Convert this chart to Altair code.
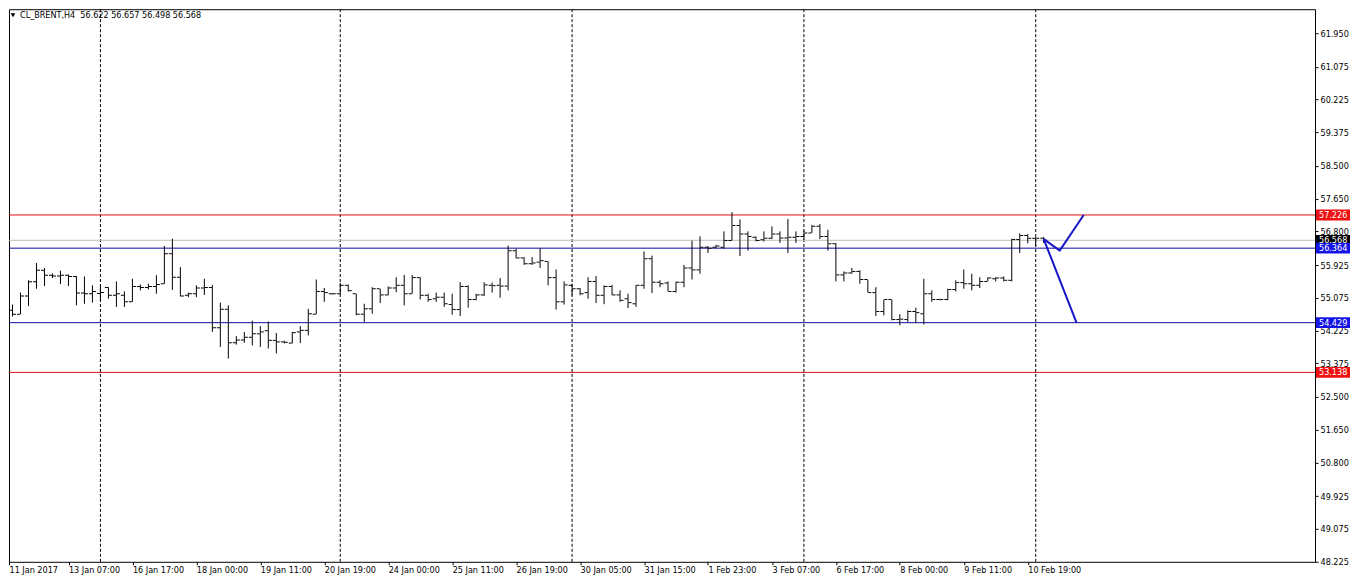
import altair as alt
import pandas as pd

# ---------------- data ----------------
bar_open = [54.79, 54.75, 54.65, 55.12, 55.49, 55.79, 55.66, 55.64, 55.66, 55.63,
            55.20, 55.18, 55.19, 55.34, 55.14, 55.14, 54.97, 55.37, 55.34, 55.37,
            55.44, 56.22, 55.61, 55.14, 55.18, 55.33, 55.34, 54.30, 54.78, 53.91,
            53.98, 54.05, 54.14, 54.22, 53.97, 53.93, 53.90, 54.19, 54.23, 54.65,
            55.24, 55.18, 55.18, 55.40, 55.18, 54.65, 54.79, 55.31, 55.15, 55.33,
            55.40, 55.18, 55.60, 55.14, 55.05, 55.09, 54.90, 54.77, 55.37, 55.03,
            55.15, 55.40, 55.40, 55.38, 56.30, 56.11, 55.96, 56.00, 56.02, 55.60,
            54.97, 55.40, 55.31, 55.21, 55.50, 55.14, 55.37, 55.15, 55.05, 54.92,
            55.40, 56.09, 55.48, 55.46, 55.24, 55.48, 55.85, 55.80, 56.39, 56.39,
            56.39, 56.56, 56.95, 56.73, 56.65, 56.58, 56.62, 56.73, 56.63, 56.65,
            56.67, 56.76, 56.93, 56.67, 56.48, 55.67, 55.72, 55.76, 55.55, 55.21,
            54.72, 55.03, 54.51, 54.51, 54.72, 54.66, 55.18, 55.03, 55.03, 55.29,
            55.47, 55.44, 55.40, 55.50, 55.57, 55.59, 55.53, 56.59, 56.69, 56.62,
            56.622]
bar_high = [55.01, 54.90, 55.21, 55.53, 55.98, 55.85, 55.71, 55.78, 55.68, 55.64,
            55.63, 55.40, 55.40, 55.35, 55.50, 55.24, 55.57, 55.42, 55.44, 55.66,
            56.42, 56.61, 55.87, 55.21, 55.40, 55.57, 55.41, 54.95, 54.88, 54.08,
            54.19, 54.48, 54.34, 54.46, 54.16, 53.96, 54.19, 54.34, 54.79, 55.55,
            55.33, 55.20, 55.46, 55.42, 55.18, 54.92, 55.35, 55.31, 55.37, 55.61,
            55.67, 55.67, 55.61, 55.18, 55.21, 55.21, 55.18, 55.48, 55.40, 55.18,
            55.48, 55.47, 55.59, 56.43, 56.35, 56.13, 56.13, 56.36, 56.02, 55.81,
            55.50, 55.44, 55.33, 55.61, 55.64, 55.40, 55.41, 55.27, 55.18, 55.41,
            56.28, 56.17, 55.53, 55.50, 55.50, 55.93, 56.56, 56.67, 56.42, 56.45,
            56.80, 57.30, 57.11, 56.80, 56.67, 56.80, 56.93, 56.80, 57.12, 56.80,
            56.82, 56.97, 56.99, 56.84, 56.50, 55.76, 55.85, 55.79, 55.55, 55.35,
            55.03, 55.03, 54.65, 54.75, 54.82, 55.57, 55.27, 55.05, 55.31, 55.53,
            55.81, 55.70, 55.61, 55.61, 55.61, 55.63, 56.61, 56.75, 56.73, 56.65,
            56.657]
bar_low = [54.69, 54.59, 54.65, 54.86, 55.31, 55.38, 55.59, 55.43, 55.38, 54.88,
           54.92, 54.95, 55.01, 55.05, 54.84, 54.84, 54.97, 55.27, 55.29, 55.18,
           55.44, 55.28, 55.11, 55.09, 55.09, 55.15, 54.19, 53.80, 53.50, 53.86,
           53.91, 53.84, 53.80, 53.76, 53.63, 53.89, 53.89, 53.90, 54.10, 54.65,
           54.97, 55.16, 55.15, 55.24, 54.62, 54.45, 54.66, 54.94, 55.14, 55.22,
           54.88, 55.18, 55.03, 54.97, 54.97, 54.84, 54.64, 54.60, 54.82, 55.01,
           55.12, 55.21, 55.08, 55.27, 56.10, 55.93, 55.93, 55.85, 55.40, 54.77,
           54.90, 55.14, 55.14, 55.05, 54.94, 54.91, 55.14, 54.97, 54.81, 54.84,
           55.31, 55.20, 55.35, 55.24, 55.21, 55.35, 55.55, 55.70, 56.24, 56.36,
           56.35, 56.56, 56.16, 56.30, 56.54, 56.54, 56.60, 56.50, 56.24, 56.50,
           56.58, 56.76, 56.60, 56.30, 55.50, 55.50, 55.70, 55.44, 55.21, 54.60,
           54.62, 54.49, 54.36, 54.45, 54.43, 54.38, 54.97, 55.01, 55.01, 55.24,
           55.31, 55.27, 55.33, 55.50, 55.50, 55.50, 55.50, 56.24, 56.49, 56.42,
           56.498]
bar_close = [54.77, 54.65, 55.12, 55.49, 55.79, 55.66, 55.64, 55.66, 55.63, 55.20,
             55.18, 55.24, 55.21, 55.14, 55.18, 54.97, 55.37, 55.34, 55.37, 55.42,
             56.22, 55.61, 55.12, 55.18, 55.33, 55.34, 54.30, 54.78, 53.91, 53.98,
             54.05, 54.14, 54.19, 53.97, 53.93, 53.92, 54.17, 54.23, 54.66, 55.24,
             55.21, 55.18, 55.40, 55.26, 54.65, 54.79, 55.31, 55.15, 55.33, 55.40,
             55.18, 55.60, 55.14, 55.03, 55.09, 54.92, 54.77, 55.37, 55.03, 55.15,
             55.41, 55.39, 55.38, 56.30, 56.11, 55.96, 55.98, 56.04, 55.60, 54.97,
             55.41, 55.31, 55.18, 55.50, 55.14, 55.37, 55.15, 55.01, 54.95, 55.40,
             56.09, 55.48, 55.44, 55.24, 55.48, 55.85, 55.80, 56.39, 56.36, 56.42,
             56.56, 56.95, 56.73, 56.67, 56.56, 56.62, 56.73, 56.63, 56.65, 56.67,
             56.76, 56.93, 56.67, 56.48, 55.67, 55.72, 55.76, 55.55, 55.21, 54.72,
             55.03, 54.51, 54.52, 54.72, 54.69, 55.18, 55.03, 55.03, 55.29, 55.47,
             55.44, 55.40, 55.50, 55.59, 55.59, 55.53, 56.59, 56.69, 56.62, 56.62,
             56.568]

date_labels = ["11 Jan 2017", "13 Jan 07:00", "16 Jan 17:00", "18 Jan 00:00", "19 Jan 11:00",
               "20 Jan 19:00", "24 Jan 00:00", "25 Jan 11:00", "26 Jan 19:00", "30 Jan 05:00",
               "31 Jan 15:00", "1 Feb 23:00", "3 Feb 07:00", "6 Feb 17:00", "8 Feb 00:00",
               "9 Feb 11:00", "10 Feb 19:00"]
date_label_bars = [0, 8, 16, 24, 32, 40, 48, 56, 64, 72, 80, 88, 96, 104, 112, 120, 128]
grid_bars = [12, 42, 71, 100, 129]

y_ticks = [61.950, 61.075, 60.225, 59.375, 58.500, 57.650, 56.800, 55.925, 55.075,
           54.225, 53.375, 52.500, 51.650, 50.800, 49.925, 49.075, 48.225]

level_prices = [57.226, 56.364, 54.429, 53.138]
level_line_colors = ["#e01010", "#0a0aa0", "#0a0aa0", "#e01010"]
level_box_colors = ["#f01010", "#1414e6", "#1414e6", "#f01010"]
current_price = 56.568

fc_group = ["up", "up", "up", "down", "down"]
fc_order = [0, 1, 2, 0, 1]
fc_bars = [130, 132, 135, 130, 134.1]
fc_prices = [56.60, 56.30, 57.226, 56.60, 54.429]

header = "CL_BRENT,H4\u00a0 56.622 56.657 56.498 56.568"

# ---------------- frames ----------------
ohlc = pd.DataFrame({"i": list(range(len(bar_open))), "o": bar_open, "h": bar_high,
                     "l": bar_low, "c": bar_close})
grid_df = pd.DataFrame({"b": grid_bars})
lvl_df = pd.DataFrame({"p": level_prices, "col": level_line_colors})
cur_df = pd.DataFrame({"p": [current_price]})
fc_df = pd.DataFrame({"g": fc_group, "k": fc_order, "b": fc_bars, "p": fc_prices})
box_df = pd.DataFrame({
    "p": [current_price] + level_prices,
    "col": ["#000000"] + level_box_colors,
    "lbl": [f"{v:.3f}" for v in [current_price] + level_prices],
    "z": [0, 1, 2, 3, 4],
})

FONT = "DejaVu Sans Condensed, DejaVu Sans, sans-serif"
W, H = 1307, 553
X0 = 0.5625
xs = alt.Scale(domain=[X0, X0 + W / 8], nice=False, zero=False)
ys = alt.Scale(domain=[48.22, 62.569], nice=False, zero=False)

label_expr = "[" + ",".join(f"'{s}'" for s in date_labels) + "][round(datum.value/8)]"
x_axis = alt.Axis(values=[X0] + date_label_bars[1:], labelExpr=label_expr, title=None,
                  grid=False, domain=False, ticks=True, tickSize=3, tickColor="black",
                  labelAlign="left", labelPadding=1, labelFontSize=9, labelFont=FONT,
                  labelColor="black", labelOverlap=False, labelFlush=False, labelBound=False)
y_axis = alt.Axis(orient="right", values=y_ticks, format=".3f", title=None, grid=False,
                  domain=False, tickSize=3, tickColor="black", labelPadding=2,
                  labelFontSize=9, labelFont=FONT, labelColor="black", labelOverlap=False,
                  labelBound=False, labelFlush=False)


def X(f):
    return alt.X(f, type="quantitative", scale=xs, axis=x_axis)


def Y(f):
    return alt.Y(f, type="quantitative", scale=ys, axis=y_axis)


grid = alt.Chart(grid_df).mark_rule(color="black", strokeWidth=1, strokeDash=[3, 2]).encode(x=X("b"))
levels = alt.Chart(lvl_df).mark_rule(strokeWidth=1).encode(
    y=Y("p"), color=alt.Color("col:N", scale=None))
cur = alt.Chart(cur_df).mark_rule(color="#c0c0c0", strokeWidth=1).encode(y=Y("p"))

hl = alt.Chart(ohlc).mark_rule(color="black", strokeWidth=1, clip=True).encode(
    x=X("i"), y=Y("h"), y2="l")
op = alt.Chart(ohlc).mark_tick(orient="horizontal", size=3, thickness=1, color="black",
                               xOffset=-2, opacity=1, clip=True).encode(x=X("i"), y=Y("o"))
cl = alt.Chart(ohlc).mark_tick(orient="horizontal", size=3, thickness=1, color="black",
                               xOffset=2, opacity=1, clip=True).encode(x=X("i"), y=Y("c"))

fc = alt.Chart(fc_df).mark_line(color="#1616c8", strokeWidth=2).encode(
    x=X("b"), y=Y("p"), detail="g:N", order="k:Q")

box = alt.Chart(box_df).mark_point(shape="M-1,-0.32H1V0.32H-1Z", filled=True, opacity=1,
                                   strokeWidth=0, size=34 * 34).encode(
    x=alt.value(W + 18), y=Y("p"), color=alt.Color("col:N", scale=None), order="z:Q")
box_txt = alt.Chart(box_df).mark_text(align="left", baseline="middle", color="white",
                                      fontSize=9, font=FONT).encode(
    x=alt.value(W + 4), y=Y("p"), text="lbl:N", order="z:Q")

hdr_df = pd.DataFrame({"t": [header]})
hdr = alt.Chart(hdr_df).mark_text(align="left", baseline="middle", color="black",
                                  fontSize=9, font=FONT).encode(
    x=alt.value(11), y=alt.value(6), text="t:N")
tri = alt.Chart(hdr_df).mark_point(shape="triangle-down", filled=True, color="black",
                                   opacity=1, size=22).encode(x=alt.value(4), y=alt.value(6))

chart = alt.layer(grid, levels, cur, hl, op, cl, fc, box, box_txt, hdr, tri).properties(
    width=W, height=H, padding=0, background="white"
).configure_view(stroke="black", strokeWidth=1)

chart.save("out.html", embed_options={"renderer": "svg", "actions": False})
